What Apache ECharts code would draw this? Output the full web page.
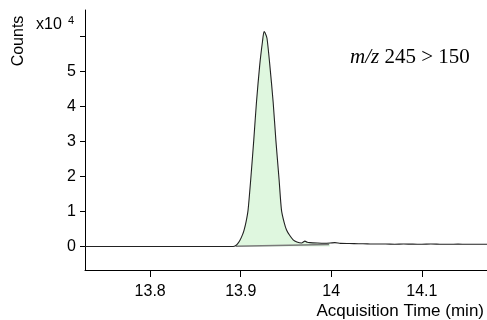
<!DOCTYPE html>
<html>
<head>
<meta charset="utf-8">
<script src="https://cdn.jsdelivr.net/npm/echarts@6.0.0/dist/echarts.min.js"></script>
<style>
  html, body { margin: 0; padding: 0; background: #fff; }
  #chart { width: 487px; height: 320px; }
</style>
</head>
<body>
<div id="chart"></div>
<script>
// acquisition time (min) and counts (x10^4)
const times = [
  13.728, 13.80, 13.85, 13.889, 13.893, 13.896, 13.899, 13.902, 13.9037, 13.906,
  13.9081, 13.911, 13.9144, 13.9174, 13.921, 13.924, 13.9258, 13.927, 13.929, 13.9321,
  13.9358, 13.9388, 13.9424, 13.945, 13.948, 13.9506, 13.954, 13.9579, 13.962, 13.9672,
  13.9709, 13.9735, 13.9764, 13.985, 13.992, 13.9986, 14.004, 14.01, 14.02, 14.03,
  14.04, 14.05, 14.06, 14.07, 14.08, 14.09, 14.10, 14.11, 14.12, 14.13,
  14.14, 14.15, 14.16, 14.172
];
const counts = [
  0, 0, 0, 0.002, 0.01, 0.06, 0.17, 0.34, 0.47, 0.72,
  1.04, 1.90, 3.04, 4.13, 5.19, 5.85, 6.14, 6.10, 5.95, 5.19,
  4.13, 3.04, 1.90, 1.04, 0.68, 0.47, 0.32, 0.19, 0.13, 0.10,
  0.155, 0.12, 0.11, 0.10, 0.095, 0.10, 0.11, 0.09, 0.085, 0.08,
  0.075, 0.07, 0.072, 0.066, 0.07, 0.068, 0.065, 0.07, 0.066, 0.064,
  0.068, 0.064, 0.066, 0.065
];
// integrated peak range (index into times) and its baseline
const peakStart = 4;
const peakEnd = 35;
const baselineTimes = [13.8945, 13.9975];
const baselineCounts = [0.006, 0.057];

const xTicks = [13.8, 13.9, 14.0, 14.1];
const yTicks = [0, 1, 2, 3, 4, 5, 6];
const yLabels = [0, 1, 2, 3, 4, 5];

const trace = times.map((t, i) => [t, counts[i]]);
const peak = trace.slice(peakStart, peakEnd + 1);
const baseline = baselineTimes.map((t, i) => [t, baselineCounts[i]]);

const chart = echarts.init(document.getElementById('chart'), null, { renderer: 'canvas' });
const font = 'Liberation Sans, Arial, sans-serif';
const serif = 'Liberation Serif, Times New Roman, serif';

chart.setOption({
  animation: false,
  backgroundColor: '#fff',
  grid: { left: 85, right: 0, top: 10, bottom: 50 },
  xAxis: {
    type: 'value',
    min: 13.728,
    max: 14.172,
    axisLine: { show: true, onZero: false, lineStyle: { color: '#000', width: 1 } },
    axisTick: { show: true, length: 7, customValues: xTicks, lineStyle: { color: '#000' } },
    axisLabel: {
      customValues: xTicks, margin: 14, color: '#000', fontSize: 16, fontFamily: font,
      formatter: v => String(Math.round(v * 10) / 10)
    },
    splitLine: { show: false }
  },
  yAxis: {
    type: 'value',
    min: -0.671,
    max: 6.757,
    axisLine: { show: true, onZero: false, lineStyle: { color: '#000', width: 1 } },
    axisTick: { show: true, length: 5, customValues: yTicks, lineStyle: { color: '#000' } },
    axisLabel: { customValues: yLabels, margin: 9, color: '#000', fontSize: 16, fontFamily: font },
    splitLine: { show: false }
  },
  graphic: [
    {
      type: 'group', x: 19, y: 41, rotation: Math.PI / 2,
      children: [{
        type: 'text', x: 0, y: 0,
        style: { text: 'Counts', fontSize: 16, fontFamily: font, fill: '#000', align: 'center', verticalAlign: 'middle' }
      }]
    },
    {
      type: 'text', x: 36, y: 25,
      style: { text: 'x10', fontSize: 16, fontFamily: font, fill: '#000', align: 'left', verticalAlign: 'middle' }
    },
    {
      type: 'text', x: 68, y: 20.5,
      style: { text: '4', fontSize: 11, fontFamily: font, fill: '#000', align: 'left', verticalAlign: 'middle' }
    },
    {
      type: 'text', x: 350, y: 57,
      style: {
        text: '{i|m/z} 245 > 150',
        fontSize: 21, fontFamily: serif, fill: '#000',
        align: 'left', verticalAlign: 'middle',
        rich: { i: { fontStyle: 'italic', fontSize: 21, fontFamily: serif } }
      }
    },
    {
      type: 'text', x: 484, y: 311,
      style: { text: 'Acquisition Time (min)', fontSize: 17, fontFamily: font, fill: '#000', align: 'right', verticalAlign: 'middle' }
    }
  ],
  series: [
    {
      type: 'line',
      data: peak,
      smooth: 0.25,
      showSymbol: false,
      lineStyle: { width: 0 },
      areaStyle: { color: '#dff7df', opacity: 1 },
      z: 1
    },
    {
      type: 'line',
      data: baseline,
      showSymbol: false,
      lineStyle: { color: '#7a7a7a', width: 1.5 },
      z: 2
    },
    {
      type: 'line',
      data: trace,
      smooth: 0.25,
      showSymbol: false,
      lineStyle: { color: '#222', width: 1.1 },
      z: 3
    }
  ]
});
</script>
</body>
</html>
